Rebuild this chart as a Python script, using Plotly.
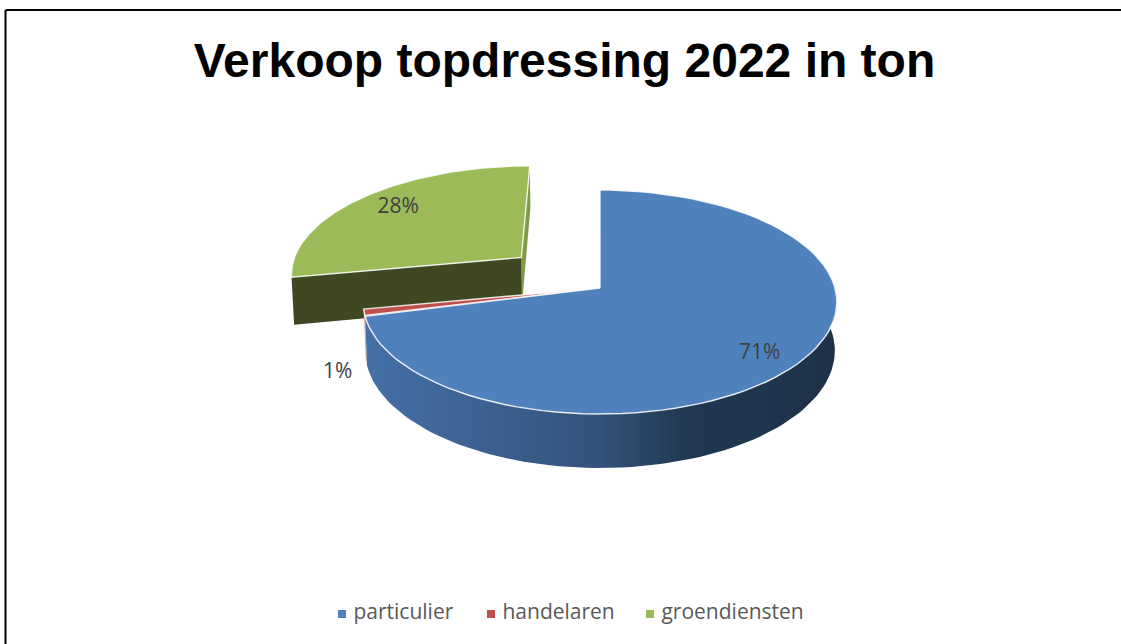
import numpy as np
import plotly.graph_objects as go

# data
categories = ["particulier", "handelaren", "groendiensten"]
values = [71, 1, 28]
colors = ["#4f81bd", "#c0504d", "#9bbb59"]
title_text = "Verkoop topdressing 2022 in ton"

# projection of the pie disc, top and bottom face (pixels)
CX = 600
TOP_Y, TOP_A, TOP_B = 288, 110.25, 235
BOT_Y, BOT_A, BOT_B = 336, 115.5, 233
PERSP = 0.125
EXPLODE = {2: 0.45}

shares = np.array(values) / sum(values)
edges = np.concatenate([[0], np.cumsum(shares)]) * 2 * np.pi


def project(u, v, face="top"):
    u, v = np.asarray(u, dtype=float), np.asarray(v, dtype=float)
    y0, a, b = (TOP_Y, TOP_A, TOP_B) if face == "top" else (BOT_Y, BOT_A, BOT_B)
    w = 1 + PERSP * v
    return CX + b * u / w, y0 - a * v / w


def offset(i):
    mid = (edges[i] + edges[i + 1]) / 2
    e = EXPLODE.get(i, 0)
    return e * np.sin(mid), e * np.cos(mid)


def arc(i, a0, a1, face="top", n=90):
    t = np.linspace(a0, a1, n)
    ou, ov = offset(i)
    return project(ou + np.sin(t), ov + np.cos(t), face)


def centre(i, face="top"):
    ou, ov = offset(i)
    x, y = project([ou], [ov], face)
    return x, y


def top_face(i):
    x, y = arc(i, edges[i], edges[i + 1])
    cx, cy = centre(i)
    return np.r_[cx, x, cx], np.r_[cy, y, cy]


def outer_wall(i, a0, a1):
    x0, y0 = arc(i, a0, a1)
    x1, y1 = arc(i, a0, a1, "bot")
    return np.r_[x0, x1[::-1], x0[0]], np.r_[y0, y1[::-1], y0[0]]


def radial_wall(i, angle):
    ou, ov = offset(i)
    cx0, cy0 = centre(i)
    cx1, cy1 = centre(i, "bot")
    x0, y0 = project([ou + np.sin(angle)], [ov + np.cos(angle)])
    x1, y1 = project([ou + np.sin(angle)], [ov + np.cos(angle)], "bot")
    return np.r_[cx0, x0, x1, cx1, cx0], np.r_[cy0, y0, y1, cy1, cy0]


def poly(x, y, color, line=None, **kw):
    return go.Scatter(
        x=x, y=y, mode="lines", fill="toself", fillcolor=color,
        line=dict(color=line or "rgba(0,0,0,0)", width=1.4 if line else 0),
        hoverinfo="skip", showlegend=False, **kw
    )


EDGE = "rgba(255,255,255,0.85)"
fig = go.Figure()

# groendiensten, pulled out, drawn first
x, y = radial_wall(2, edges[3])
fig.add_trace(poly(x, y, "#7f9b49"))
x, y = radial_wall(2, edges[2])
fig.add_trace(poly(x, y, "#3f4821"))
x, y = top_face(2)
fig.add_trace(poly(x, y, colors[2], EDGE))

# red sliver wall, blue wall with shading
x, y = outer_wall(1, edges[1], edges[2])
fig.add_trace(poly(x, y, "#e0a5a3"))
x, y = outer_wall(0, np.pi * 0.45, edges[1])
fig.add_trace(go.Scatter(
    x=x, y=y, mode="lines", fill="toself",
    line=dict(color="rgba(0,0,0,0)", width=0),
    fillgradient=dict(
        type="horizontal",
        colorscale=[[0, "#4470a6"], [0.25, "#3c6192"], [0.5, "#33527a"],
                    [0.68, "#213852"], [1, "#1e3149"]],
    ),
    hoverinfo="skip", showlegend=False
))

# top faces of blue and red
x, y = top_face(1)
fig.add_trace(poly(x, y, colors[1], EDGE))
x, y = top_face(0)
fig.add_trace(poly(x, y, colors[0], EDGE))


# data labels, placed along each slice's mid angle, then nudged
def label_pos(i, r, face="top"):
    mid = (edges[i] + edges[i + 1]) / 2
    ou, ov = offset(i)
    return project([ou + r * np.sin(mid)], [ov + r * np.cos(mid)], face)


for i, r, face, dx, dy in [(0, 0.83, "top", -5, 6), (1, 1.11, "bot", -2, 8), (2, 0.80, "top", 4, 0)]:
    lx, ly = label_pos(i, r, face)
    fig.add_trace(go.Scatter(
        x=lx + dx, y=ly + dy, mode="text", text=[f"{values[i]}%"],
        textfont=dict(family="Open Sans", size=21, color="#404040"),
        hoverinfo="skip", showlegend=False
    ))

# legend row
LEGEND_X = [342, 491, 650]
for i, name in enumerate(categories):
    fig.add_trace(go.Scatter(
        x=[LEGEND_X[i]], y=[614], mode="markers+text", name=name,
        marker=dict(symbol="square", size=8, color=colors[i]),
        text=[" " + name], textposition="middle right",
        textfont=dict(family="Open Sans", size=21, color="#595959"),
        hoverinfo="name", showlegend=False
    ))

fig.update_layout(
    width=1121,
    height=644,
    margin=dict(l=0, r=0, t=0, b=0),
    paper_bgcolor="white",
    plot_bgcolor="white",
    showlegend=False,
    title=dict(
        text=f"<b>{title_text}</b>", x=564.5 / 1121, xanchor="center",
        y=1 - 60 / 644, yanchor="middle",
        font=dict(family="Liberation Sans", size=48, color="black"),
    ),
    shapes=[
        dict(type="line", xref="x", yref="y", x0=5.5, x1=1121, y0=10, y1=10,
             line=dict(color="black", width=2)),
        dict(type="line", xref="x", yref="y", x0=5.5, x1=5.5, y0=10, y1=644,
             line=dict(color="black", width=2)),
    ],
)
fig.update_xaxes(range=[0, 1121], visible=False, fixedrange=True)
fig.update_yaxes(range=[644, 0], visible=False, fixedrange=True)

fig.write_html("out.html", config={"displayModeBar": False},
               post_script="document.body.style.margin='0';")
